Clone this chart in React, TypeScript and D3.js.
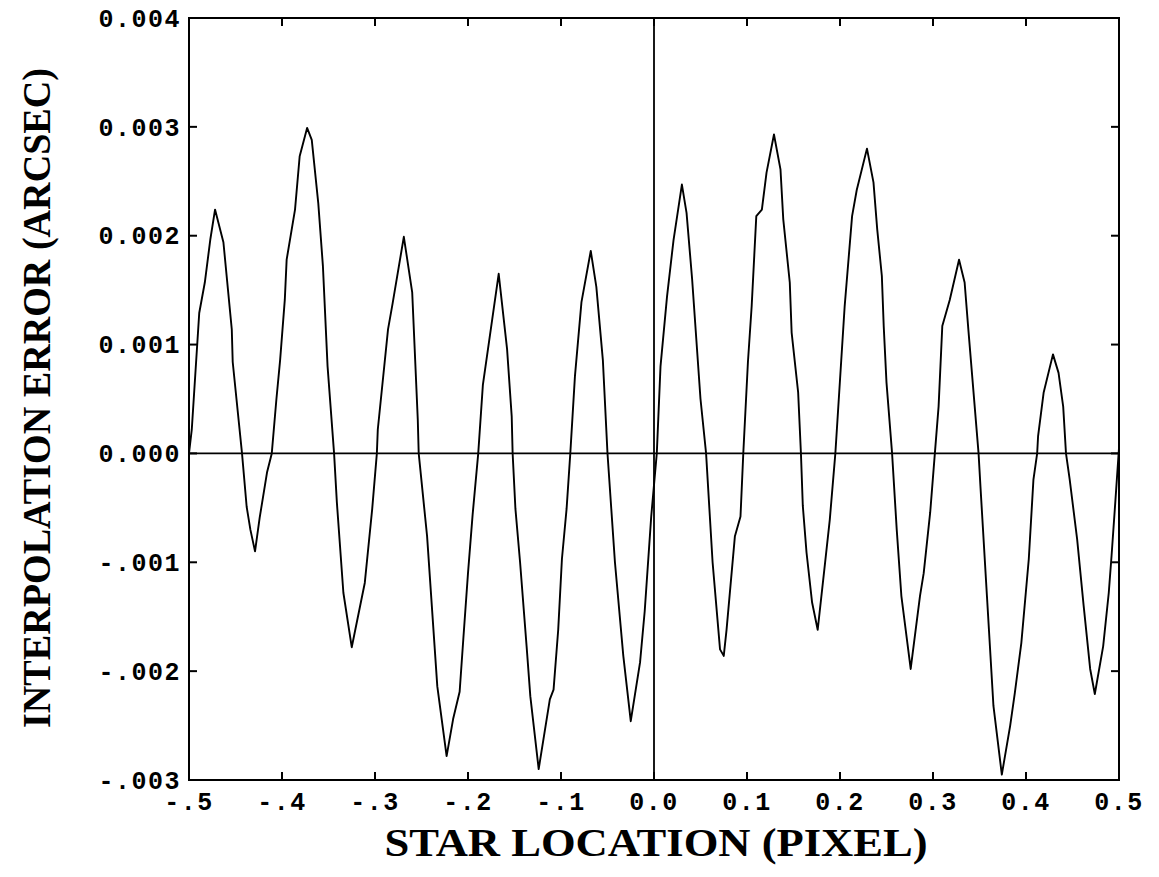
import React from "react";
import * as d3 from "d3";

// Star location (pixel)
const starLocation: number[] = [
  -0.5, -0.497, -0.489, -0.483, -0.477, -0.472, -0.463, -0.454, -0.453, -0.443,
  -0.438, -0.434, -0.429, -0.424, -0.416, -0.411, -0.406, -0.402, -0.397, -0.395,
  -0.386, -0.381, -0.373, -0.368, -0.361, -0.356, -0.351, -0.344, -0.341, -0.334,
  -0.325, -0.311, -0.303, -0.298, -0.297, -0.286, -0.281, -0.269, -0.26, -0.254,
  -0.253, -0.244, -0.233, -0.223, -0.216, -0.209, -0.205, -0.2, -0.195, -0.189,
  -0.184, -0.174, -0.167, -0.158, -0.153, -0.152, -0.149, -0.144, -0.137, -0.133,
  -0.124, -0.112, -0.108, -0.103, -0.099, -0.094, -0.09, -0.085, -0.078, -0.068,
  -0.062, -0.055, -0.05, -0.042, -0.033, -0.025, -0.015, -0.01, -0.003, 0.003,
  0.007, 0.014, 0.021, 0.03, 0.035, 0.041, 0.05, 0.056, 0.063, 0.071,
  0.075, 0.078, 0.087, 0.093, 0.096, 0.101, 0.105, 0.11, 0.116, 0.121,
  0.129, 0.136, 0.139, 0.146, 0.148, 0.155, 0.158, 0.16, 0.164, 0.17,
  0.176, 0.184, 0.189, 0.195, 0.205, 0.213, 0.218, 0.229, 0.236, 0.24,
  0.245, 0.247, 0.25, 0.256, 0.261, 0.266, 0.276, 0.286, 0.29, 0.297,
  0.302, 0.306, 0.31, 0.318, 0.328, 0.334, 0.338, 0.349, 0.351, 0.358,
  0.365, 0.374, 0.383, 0.388, 0.395, 0.403, 0.408, 0.412, 0.413, 0.419,
  0.429, 0.435, 0.44, 0.443, 0.447, 0.455, 0.462, 0.469, 0.474, 0.483,
  0.489, 0.492, 0.496, 0.5,
];

// Interpolation error (units of 0.001 arcsec)
const interpError: number[] = [
  0.0, 0.22, 1.29, 1.57, 1.97, 2.24, 1.94, 1.14, 0.84, 0.0,
  -0.49, -0.7, -0.9, -0.59, -0.17, 0.0, 0.5, 0.86, 1.41, 1.78,
  2.24, 2.73, 2.99, 2.88, 2.3, 1.72, 0.8, 0.0, -0.45, -1.28,
  -1.78, -1.19, -0.51, 0.0, 0.22, 1.14, 1.38, 1.99, 1.48, 0.31,
  0.0, -0.76, -2.14, -2.78, -2.44, -2.19, -1.7, -1.1, -0.56, 0.0,
  0.63, 1.23, 1.65, 0.96, 0.34, 0.0, -0.51, -1.0, -1.77, -2.23,
  -2.9, -2.26, -2.17, -1.62, -0.97, -0.51, 0.0, 0.71, 1.39, 1.86,
  1.53, 0.86, 0.0, -1.0, -1.86, -2.46, -1.92, -1.45, -0.58, 0.0,
  0.8, 1.44, 1.96, 2.47, 2.21, 1.6, 0.5, 0.0, -1.0, -1.8,
  -1.86, -1.62, -0.76, -0.58, 0.0, 0.84, 1.35, 2.18, 2.24, 2.58,
  2.93, 2.61, 2.15, 1.57, 1.11, 0.56, 0.0, -0.48, -0.91, -1.37,
  -1.62, -1.0, -0.61, 0.0, 1.35, 2.18, 2.42, 2.8, 2.49, 2.06,
  1.63, 1.17, 0.65, 0.0, -0.7, -1.31, -1.98, -1.31, -1.1, -0.54,
  0.0, 0.43, 1.17, 1.41, 1.78, 1.57, 1.14, 0.0, -0.3, -1.31,
  -2.32, -2.95, -2.5, -2.2, -1.74, -0.97, -0.24, 0.0, 0.16, 0.56,
  0.91, 0.74, 0.43, 0.0, -0.24, -0.79, -1.4, -1.98, -2.21, -1.77,
  -1.28, -0.94, -0.45, 0.05,
];

const xTickValues: number[] = [-0.5, -0.4, -0.3, -0.2, -0.1, 0.0, 0.1, 0.2, 0.3, 0.4, 0.5];
const xTickLabels: string[] = ["-.5", "-.4", "-.3", "-.2", "-.1", "0.0", "0.1", "0.2", "0.3", "0.4", "0.5"];
const yTickValues: number[] = [4, 3, 2, 1, 0, -1, -2, -3];
const yTickLabels: string[] = ["0.004", "0.003", "0.002", "0.001", "0.000", "-.001", "-.002", "-.003"];

const xTitle = "STAR LOCATION (PIXEL)";
const yTitle = "INTERPOLATION ERROR (ARCSEC)";

const W = 1159;
const H = 877;
const M = { left: 189, right: 40, top: 18, bottom: 97 };

export default function App() {
  const x = d3.scaleLinear().domain([-0.5, 0.5]).range([M.left, W - M.right]);
  const y = d3.scaleLinear().domain([-3, 4]).range([H - M.bottom, M.top]);
  const pts = starLocation.map((s, i) => [s, interpError[i]] as [number, number]);
  const line = d3
    .line<[number, number]>()
    .x((d) => x(d[0]))
    .y((d) => y(d[1]));
  const x0 = x.range()[0], x1 = x.range()[1];
  const yTop = y.range()[1], yBot = y.range()[0];
  const tick = 8;
  const mono = "'Liberation Mono', 'Courier New', monospace";
  const serif = "'Liberation Serif', 'Times New Roman', serif";

  return (
    <svg
      width={W}
      height={H}
      style={{ position: "absolute", left: 0, top: 0, background: "#fff" }}
    >
      <rect x={0} y={0} width={W} height={H} fill="#fff" />
      {/* frame */}
      <rect x={x0} y={yTop} width={x1 - x0} height={yBot - yTop} fill="none" stroke="#000" strokeWidth={2} />
      {/* zero lines */}
      <line x1={x0} x2={x1} y1={y(0)} y2={y(0)} stroke="#000" strokeWidth={1.8} />
      <line x1={x(0)} x2={x(0)} y1={yTop} y2={yBot} stroke="#000" strokeWidth={1.8} />
      {/* x ticks */}
      {xTickValues.map((v, i) => (
        <g key={"xt" + i}>
          {i > 0 && i < xTickValues.length - 1 && (
            <>
              <line x1={x(v)} x2={x(v)} y1={yBot} y2={yBot - tick} stroke="#000" strokeWidth={2} />
              <line x1={x(v)} x2={x(v)} y1={yTop} y2={yTop + tick} stroke="#000" strokeWidth={2} />
            </>
          )}
          <text
            x={x(v)}
            y={yBot + 30}
            textAnchor="middle"
            fontFamily={mono}
            fontWeight="bold"
            fontSize={25}
            letterSpacing={1.5}
          >
            {xTickLabels[i]}
          </text>
        </g>
      ))}
      {/* y ticks */}
      {yTickValues.map((v, i) => (
        <g key={"yt" + i}>
          {i > 0 && i < yTickValues.length - 1 && (
            <>
              <line x1={x0} x2={x0 + tick} y1={y(v)} y2={y(v)} stroke="#000" strokeWidth={2} />
              <line x1={x1} x2={x1 - tick} y1={y(v)} y2={y(v)} stroke="#000" strokeWidth={2} />
            </>
          )}
          <text
            x={x0 - 8}
            y={y(v)}
            dy="0.35em"
            textAnchor="end"
            fontFamily={mono}
            fontWeight="bold"
            fontSize={25}
            letterSpacing={1.5}
          >
            {yTickLabels[i]}
          </text>
        </g>
      ))}
      {/* curve */}
      <path d={line(pts) || ""} fill="none" stroke="#000" strokeWidth={1.9} strokeLinejoin="round" />
      {/* titles */}
      <text
        x={(x0 + x1) / 2 + 2}
        y={856}
        textAnchor="middle"
        fontFamily={serif}
        fontWeight="bold"
        fontSize={40}
        textLength={543}
        lengthAdjust="spacingAndGlyphs"
      >
        {xTitle}
      </text>
      <text
        transform={`translate(50, ${398}) rotate(-90)`}
        textAnchor="middle"
        fontFamily={serif}
        fontWeight="bold"
        fontSize={40}
        textLength={660}
        lengthAdjust="spacingAndGlyphs"
      >
        {yTitle}
      </text>
    </svg>
  );
}
